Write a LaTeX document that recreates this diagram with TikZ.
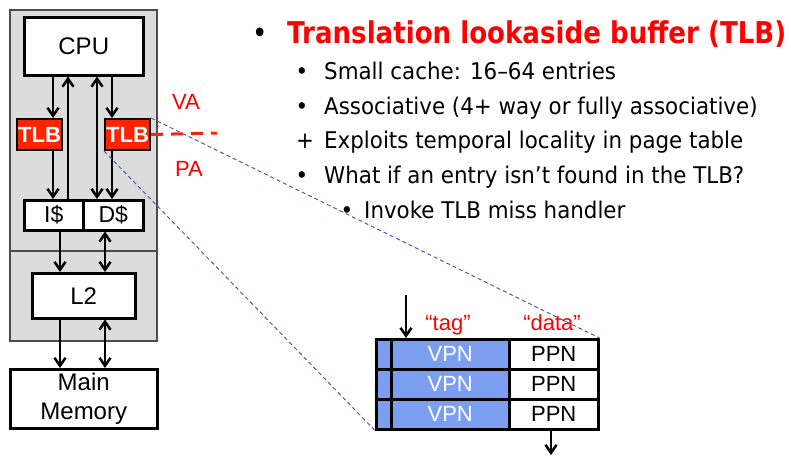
\documentclass[tikz,border=0pt]{standalone}
\usepackage{fontspec}
\setmainfont{Liberation Sans}
\newfontfamily\bodyfont{DejaVu Sans}[FakeStretch=0.93]
\newfontfamily\titlefont{DejaVu Sans}[FakeStretch=0.87]
\usetikzlibrary{arrows.meta}

\definecolor{panelgray}{RGB}{220,220,220}
\definecolor{tlbred}{RGB}{255,36,0}
\definecolor{slidered}{RGB}{255,0,0}
\definecolor{vpnblue}{RGB}{124,158,240}
\definecolor{zoomblue}{RGB}{80,90,170}

\begin{document}
\begin{tikzpicture}[x=1pt, y=-1pt,
  box/.style={draw, line width=2.5pt, fill=white, inner sep=0pt, anchor=north west, font=\fontsize{24}{29}\selectfont},
  tlbbox/.style={box, fill=tlbred, text=white, line width=2pt, font=\fontsize{22}{22}\selectfont\bfseries},
  cell/.style={box, minimum height=30pt, font=\fontsize{22}{22}\selectfont},
  arr/.style={line width=2.5pt, -{Straight Barb[length=8pt, width=11pt]}},
  dblarr/.style={line width=2.5pt, {Straight Barb[length=8pt, width=11pt]}-{Straight Barb[length=8pt, width=11pt]}},
  zoomline/.style={draw=zoomblue, line width=1pt, dash pattern=on 4pt off 3pt},
  bodytext/.style={anchor=base west, inner sep=0pt, font=\bodyfont\fontsize{23}{23}\selectfont}]

\useasboundingbox (0,0) rectangle (791,458);

% Gray processor panel
\node[draw=black!70, line width=1.5pt, fill=panelgray, minimum width=147pt, minimum height=331pt, anchor=north west, inner sep=0pt] (panel) at (9,9) {};
\draw[black!70, line width=1.5pt] (panel.west |- 0,251) -- (panel.east |- 0,251);

% Boxes of the hierarchy
\node[box, minimum width=119pt, minimum height=58pt] (cpu) at (23,16) {CPU};
\node[tlbbox, minimum width=45pt, minimum height=31pt] (tlbL) at (16,118) {TLB};
\node[tlbbox, minimum width=45pt, minimum height=31pt] (tlbR) at (104,118) {TLB};
\node[box, minimum width=59pt, minimum height=30pt, font=\fontsize{23}{23}\selectfont] (icache) at (23,199) {I\$};
\node[box, minimum width=60pt, minimum height=30pt, font=\fontsize{23}{23}\selectfont] (dcache) at (82,199) {D\$};
\node[box, minimum width=103pt, minimum height=45pt] (ltwo) at (31,272) {L2};
\node[box, minimum width=147pt, minimum height=59pt, align=center] (mem) at (9,368) {Main\\Memory};

% Lanes of the arrows
\coordinate (lane1) at (53,0);
\coordinate (lane2) at (68,0);
\coordinate (lane3) at (97,0);
\coordinate (lane4) at (112,0);
\coordinate (lane5) at (60,0);
\coordinate (lane6) at (105,0);

% Arrows between the levels
\draw[arr] (cpu.south -| lane1) -- (tlbL.north -| lane1);
\draw[arr] (tlbL.south -| lane1) -- (icache.north -| lane1);
\draw[arr] (icache.north -| lane2) -- (cpu.south -| lane2);
\draw[dblarr] (dcache.north -| lane3) -- (cpu.south -| lane3);
\draw[arr] (cpu.south -| lane4) -- (tlbR.north -| lane4);
\draw[arr] (tlbR.south -| lane4) -- (dcache.north -| lane4);
\draw[arr] (icache.south -| lane5) -- (ltwo.north -| lane5);
\draw[dblarr] (dcache.south -| lane6) -- (ltwo.north -| lane6);
\draw[arr] (ltwo.south -| lane5) -- (mem.north -| lane5);
\draw[dblarr] (ltwo.south -| lane6) -- (mem.north -| lane6);

% VA / PA split
\coordinate (vaend) at (217,133);
\draw[tlbred, line width=3pt, dash pattern=on 12pt off 8pt] (tlbR.east) -- (vaend);
\node[anchor=base, text=slidered, font=\fontsize{22}{22}\selectfont] (va) at (186,109) {VA};
\node[anchor=base, text=slidered, font=\fontsize{22}{22}\selectfont] (pa) at (189,176) {PA};

% TLB entries
\foreach \i/\y in {1/338,2/368,3/398}{
  \node[cell, fill=vpnblue, minimum width=15pt] (v\i) at (375,\y) {};
  \node[cell, fill=vpnblue, text=white, minimum width=118pt] (vpn\i) at (390,\y) {VPN};
  \node[cell, minimum width=89pt] (ppn\i) at (508,\y) {PPN};
}
\node[anchor=base, text=slidered, font=\fontsize{22}{22}\selectfont] (tag) at (448,330) {“tag”};
\node[anchor=base, text=slidered, font=\fontsize{22}{22}\selectfont] (data) at (552,330) {“data”};
\coordinate (tin) at (406,295);
\coordinate (tout) at (551,455);
\draw[arr] (tin) -- (tin |- vpn1.north);
\draw[arr] (ppn3.south -| tout) -- (tout);

% Zoom lines from the TLB to its entries
\draw[zoomline] (tlbR.north east) -- (ppn1.north east);
\draw[zoomline] (tlbR.south west) -- (v3.south west);

% Bullet text
\node[anchor=base, inner sep=0pt, font=\titlefont\fontsize{30}{30}\selectfont] (b0) at (260,43) {•};
\node[anchor=base west, inner sep=0pt, text=slidered, font=\titlefont\fontsize{30}{30}\selectfont\bfseries] (title) at (287,43) {Translation lookaside buffer (TLB)};
\node[anchor=base, inner sep=0pt, font=\bodyfont\fontsize{23}{23}\selectfont] (b1) at (302,79) {•};
\node[bodytext] (t1) at (324,79) {Small cache: 16–64 entries};
\node[anchor=base, inner sep=0pt, font=\bodyfont\fontsize{23}{23}\selectfont] (b2) at (302,114) {•};
\node[bodytext] (t2) at (324,114) {Associative (4+ way or fully associative)};
\node[anchor=base, inner sep=0pt, font=\bodyfont\fontsize{23}{23}\selectfont] (b3) at (305,148) {+};
\node[bodytext] (t3) at (324,148) {Exploits temporal locality in page table};
\node[anchor=base, inner sep=0pt, font=\bodyfont\fontsize{23}{23}\selectfont] (b4) at (302,183) {•};
\node[bodytext] (t4) at (324,183) {What if an entry isn’t found in the TLB?};
\node[anchor=base, inner sep=0pt, font=\bodyfont\fontsize{23}{23}\selectfont] (b5) at (347,218) {•};
\node[bodytext] (t5) at (364,218) {Invoke TLB miss handler};

\end{tikzpicture}
\end{document}
